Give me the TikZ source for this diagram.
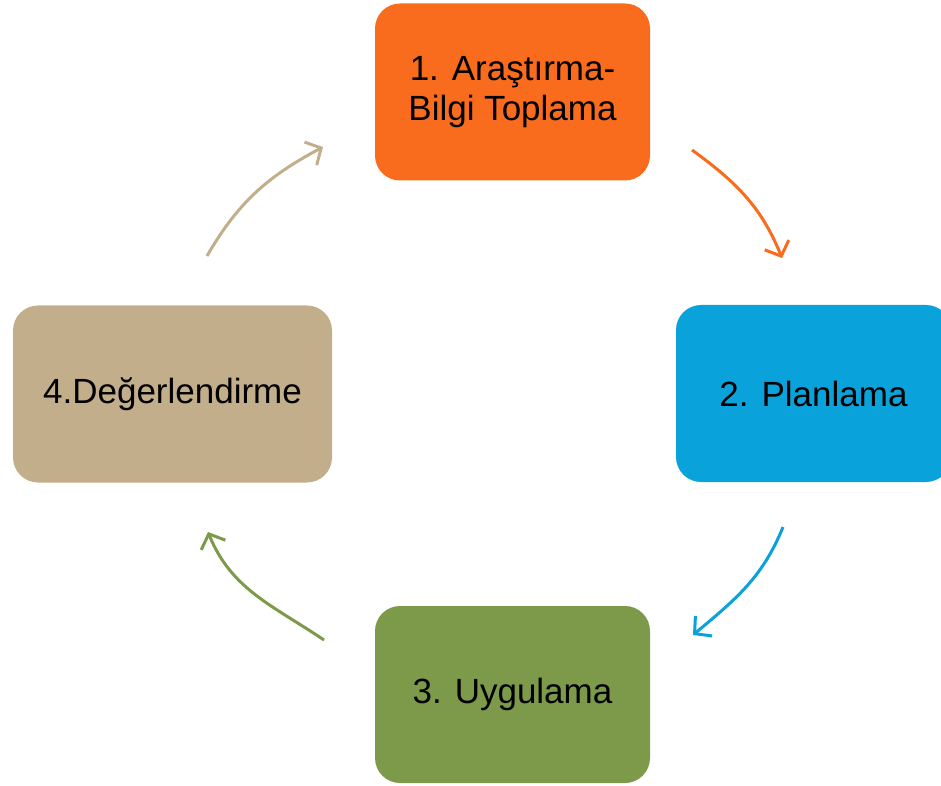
\documentclass[tikz,border=0pt]{standalone}
\usepackage{fontspec}
\setmainfont{Liberation Sans}
\usetikzlibrary{arrows.meta}
\definecolor{cOrange}{RGB}{249,107,29}
\definecolor{cBlue}{RGB}{10,162,218}
\definecolor{cGreen}{RGB}{125,153,74}
\definecolor{cTan}{RGB}{195,174,140}
\begin{document}
\begin{tikzpicture}[x=1pt,y=1pt,
  stagebox/.style={rounded corners=25pt, inner sep=0pt, minimum width=275pt, minimum height=177pt,
    align=center, text=black, font=\fontsize{35}{40}\selectfont},
  cyclearrow/.style={line width=3pt, -{Straight Barb[length=12pt,width=26pt,line width=3pt]}}]
\useasboundingbox (0,0) rectangle (941,785);
\node[stagebox, fill=cOrange] (s1) at (512.5,693) {1. Araştırma-\\Bilgi Toplama};
\node[stagebox, fill=cBlue] (s2) at (813.5,391.5) {2. Planlama};
\node[stagebox, fill=cGreen] (s3) at (512.5,90.5) {3. Uygulama};
\node[stagebox, fill=cTan, minimum width=319pt] (s4) at (172.5,391) {4.Değerlendirme};
\coordinate (a1s) at (692,635); \coordinate (a1e) at (782,527);
\coordinate (a2s) at (783,258); \coordinate (a2e) at (693,150);
\coordinate (a3s) at (324,145); \coordinate (a3e) at (208,253);
\coordinate (a4s) at (207,529); \coordinate (a4e) at (323,638);
\draw[cyclearrow, cOrange] (a1s) to[out=-36, in=112] (a1e);
\draw[cyclearrow, cBlue] (a2s) to[out=-112, in=40] (a2e);
\draw[cyclearrow, cGreen] (a3s) to[out=146, in=-68] (a3e);
\draw[cyclearrow, cTan] (a4s) to[out=60, in=-152] (a4e);
\end{tikzpicture}
\end{document}
